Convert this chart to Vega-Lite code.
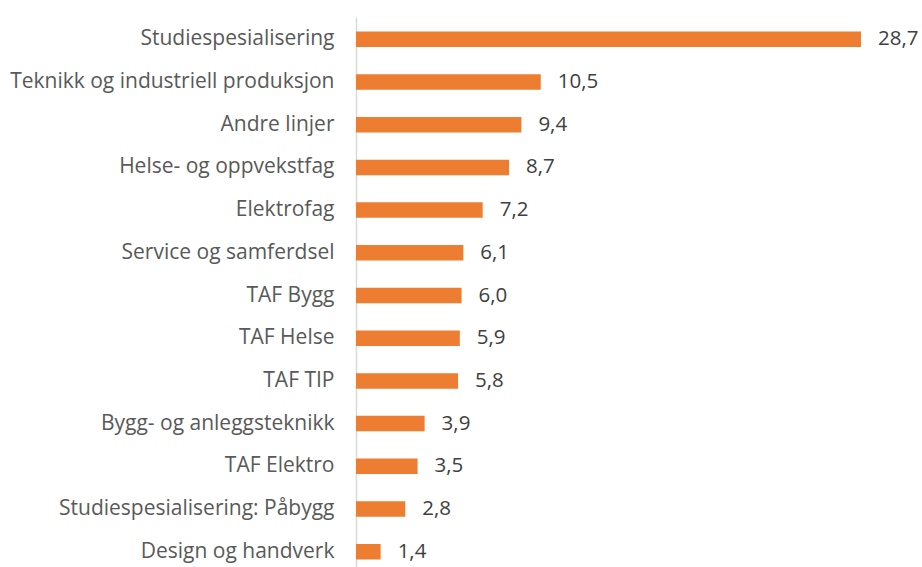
{
  "$schema": "https://vega.github.io/schema/vega-lite/v6.json",
  "width": 540,
  "height": 557,
  "autosize": "none",
  "padding": {"left": 356, "top": 17, "right": 26, "bottom": 0},
  "background": "white",
  "data": {"values": [
    {"linje": "Studiespesialisering", "verdi": 28.7},
    {"linje": "Teknikk og industriell produksjon", "verdi": 10.5},
    {"linje": "Andre linjer", "verdi": 9.4},
    {"linje": "Helse- og oppvekstfag", "verdi": 8.7},
    {"linje": "Elektrofag", "verdi": 7.2},
    {"linje": "Service og samferdsel", "verdi": 6.1},
    {"linje": "TAF Bygg", "verdi": 6.0},
    {"linje": "TAF Helse", "verdi": 5.9},
    {"linje": "TAF TIP", "verdi": 5.8},
    {"linje": "Bygg- og anleggsteknikk", "verdi": 3.9},
    {"linje": "TAF Elektro", "verdi": 3.5},
    {"linje": "Studiespesialisering: Påbygg", "verdi": 2.8},
    {"linje": "Design og handverk", "verdi": 1.4}
  ]},
  "config": {
    "view": {"stroke": null},
    "font": "Open Sans",
    "locale": {"number": {"decimal": ",", "thousands": " ", "grouping": [3], "currency": ["", " kr"]}}
  },
  "encoding": {
    "y": {"field": "linje", "type": "nominal", "sort": null,
      "scale": {"paddingInner": 0.637, "paddingOuter": 0.34},
      "axis": {"title": null, "ticks": false, "labelPadding": 22, "labelFontSize": 21, "labelColor": "#595959", "labelFont": "Open Sans", "domainColor": "#D9D9D9", "domainWidth": 1.5, "labelLimit": 400}},
    "x": {"field": "verdi", "type": "quantitative", "scale": {"domain": [0, 30.69], "nice": false}, "axis": null}
  },
  "layer": [
    {"mark": {"type": "bar", "color": "#ED7D31"}},
    {"mark": {"type": "text", "align": "left", "baseline": "middle", "dx": 17, "fontSize": 20.5, "color": "#404040", "font": "Open Sans"},
     "encoding": {"text": {"field": "verdi", "type": "quantitative", "format": ".1f"}}}
  ]
}
